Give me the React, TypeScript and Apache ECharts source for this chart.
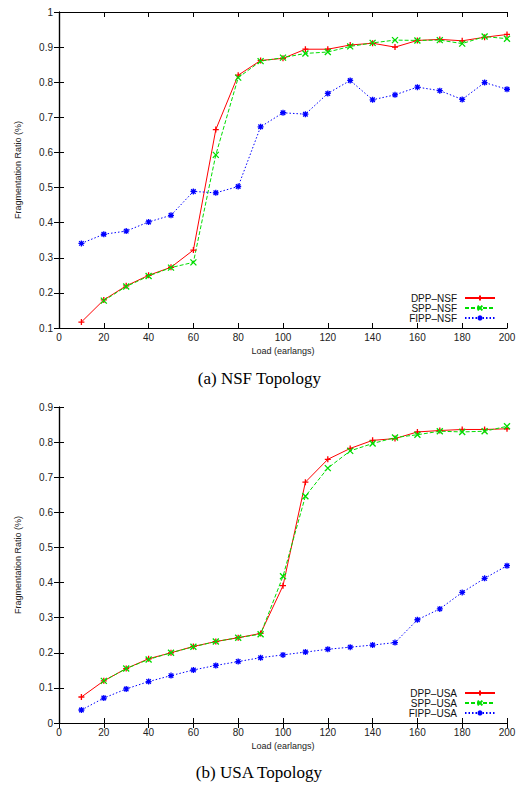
import React, { useEffect, useRef } from "react";
import * as echarts from "echarts";

const loads = [10, 20, 30, 40, 50, 60, 70, 80, 90, 100, 110, 120, 130, 140, 150, 160, 170, 180, 190, 200];

const dppNsf = [0.117, 0.18, 0.22, 0.25, 0.273, 0.322, 0.665, 0.82, 0.862, 0.868, 0.894, 0.894, 0.906, 0.911, 0.9, 0.919, 0.922, 0.918, 0.928, 0.936];
const sppNsf = [null, 0.178, 0.218, 0.248, 0.272, 0.287, 0.593, 0.813, 0.86, 0.87, 0.882, 0.886, 0.902, 0.912, 0.92, 0.919, 0.92, 0.91, 0.93, 0.924];
const fippNsf = [0.341, 0.367, 0.376, 0.402, 0.421, 0.489, 0.485, 0.503, 0.673, 0.713, 0.709, 0.768, 0.805, 0.75, 0.764, 0.786, 0.776, 0.751, 0.799, 0.78];

const dppUsa = [0.074, 0.12, 0.155, 0.183, 0.2, 0.218, 0.232, 0.243, 0.255, 0.391, 0.686, 0.751, 0.782, 0.805, 0.81, 0.829, 0.833, 0.836, 0.836, 0.838];
const sppUsa = [null, 0.12, 0.155, 0.181, 0.2, 0.217, 0.232, 0.243, 0.253, 0.418, 0.646, 0.726, 0.775, 0.796, 0.813, 0.821, 0.831, 0.829, 0.831, 0.845];
const fippUsa = [0.037, 0.071, 0.097, 0.118, 0.135, 0.151, 0.164, 0.175, 0.186, 0.194, 0.202, 0.21, 0.216, 0.222, 0.229, 0.294, 0.325, 0.372, 0.412, 0.448];

const namesNsf = ["DPP\u2013NSF", "SPP\u2013NSF", "FIPP\u2013NSF"];
const namesUsa = ["DPP\u2013USA", "SPP\u2013USA", "FIPP\u2013USA"];
const captions = ["(a) NSF Topology", "(b) USA Topology"];
const xTitle = "Load (earlangs)";
const yTitle = "Fragmentation Ratio (%)";

const PLUS = "path://M0,4L8,4M4,0L4,8";
const CROSS = "path://M0,0L8,8M8,0L0,8";
const STAR = "path://M0,4L8,4M4,0L4,8M1,1L7,7M7,1L1,7";

const FONT = "Liberation Sans, Arial, sans-serif";

export default function App() {
  const ref = useRef<HTMLDivElement>(null);
  useEffect(() => {
    if (!ref.current) return;
    const chart = echarts.init(ref.current, undefined, { renderer: "svg" });
    const pair = (ys: (number | null)[]) => loads.map((x, i) => [x, ys[i]]);
    const fmt = (v: number) => String(+v.toFixed(1));

    const grids = [
      { left: 59, top: 12, width: 448, height: 316 },
      { left: 59, top: 407, width: 448, height: 316 },
    ];
    const yRanges = [
      { min: 0.1, max: 1 },
      { min: 0, max: 0.9 },
    ];
    const xAxes: any[] = [];
    const yAxes: any[] = [];
    [0, 1].forEach((g) => {
      xAxes.push({
        type: "value", gridIndex: g, min: 0, max: 200, interval: 20, position: "bottom",
        name: xTitle, nameLocation: "middle", nameGap: 18,
        nameTextStyle: { fontFamily: FONT, fontSize: 9, color: "#222" },
        axisLine: { lineStyle: { color: "#000", width: 1.2 } },
        axisTick: { inside: true, length: 5, lineStyle: { color: "#000" } },
        axisLabel: { fontFamily: FONT, fontSize: 10, color: "#222", margin: 4 },
        splitLine: { show: false },
      });
      xAxes.push({
        type: "value", gridIndex: g, min: 0, max: 200, interval: 20, position: "top",
        axisLine: { lineStyle: { color: "#000", width: 1.2 } },
        axisTick: { inside: true, length: 5, lineStyle: { color: "#000" } },
        axisLabel: { show: false },
        splitLine: { show: false },
      });
      yAxes.push({
        type: "value", gridIndex: g, min: yRanges[g].min, max: yRanges[g].max, interval: 0.1, position: "left",
        name: yTitle, nameLocation: "middle", nameGap: 37, nameRotate: 90,
        nameTextStyle: { fontFamily: FONT, fontSize: 9, color: "#222" },
        axisLine: { lineStyle: { color: "#000", width: 1.2 } },
        axisTick: { inside: true, length: 5, lineStyle: { color: "#000" } },
        axisLabel: { fontFamily: FONT, fontSize: 10, color: "#222", margin: 6, formatter: fmt },
        splitLine: { show: false },
      });
      yAxes.push({
        type: "value", gridIndex: g, min: yRanges[g].min, max: yRanges[g].max, interval: 0.1, position: "right",
        axisLine: { lineStyle: { color: "#000", width: 1.2 } },
        axisTick: { inside: true, length: 5, lineStyle: { color: "#000" } },
        axisLabel: { show: false },
        splitLine: { show: false },
      });
    });

    const mk = (name: string, data: (number | null)[], g: number, color: string, type: any, symbol: string, size: number, lw = 1) => ({
      name, type: "line", xAxisIndex: g * 2, yAxisIndex: g * 2, data: pair(data),
      symbol, symbolSize: size, showSymbol: true, connectNulls: false,
      lineStyle: { color, width: lw, type },
      itemStyle: { color, borderColor: color, borderWidth: 1.3 },
    });

    const series = [
      mk(namesNsf[0], dppNsf, 0, "#ff0000", "solid", PLUS, 6),
      mk(namesNsf[1], sppNsf, 0, "#00dd00", [4, 2], CROSS, 6),
      mk(namesNsf[2], fippNsf, 0, "#0000ff", [1.5, 2], STAR, 6),
      mk(namesUsa[0], dppUsa, 1, "#ff0000", "solid", PLUS, 6),
      mk(namesUsa[1], sppUsa, 1, "#00dd00", [4, 2], CROSS, 6),
      mk(namesUsa[2], fippUsa, 1, "#0000ff", [1.5, 2], STAR, 6),
    ];

    const legendBase = {
      orient: "vertical", align: "right", right: 23, itemWidth: 30, itemHeight: 6, itemGap: 0,
      textStyle: { fontFamily: FONT, fontSize: 10, color: "#111", padding: [0, 3, 0, 0] },
      padding: 0, selectedMode: false,
    };
    const nsfTops = [293, 303, 313];
    const usaTops = [688, 698, 708];
    const legends = [
      ...namesNsf.map((n, i) => ({ ...legendBase, data: [n], top: nsfTops[i] })),
      ...namesUsa.map((n, i) => ({ ...legendBase, data: [n], top: usaTops[i] })),
    ];

    chart.setOption({
      animation: false,
      backgroundColor: "#fff",
      grid: grids,
      xAxis: xAxes,
      yAxis: yAxes,
      legend: legends,
      series,
      graphic: [
        { type: "text", left: "center", top: 370, style: { text: captions[0], font: "17px 'Liberation Serif', 'DejaVu Serif', serif", fill: "#000" } },
        { type: "text", left: "center", top: 764, style: { text: captions[1], font: "17px 'Liberation Serif', 'DejaVu Serif', serif", fill: "#000" } },
      ],
    });
    return () => chart.dispose();
  }, []);
  return <div ref={ref} style={{ position: "absolute", left: 0, top: 0, width: 519, height: 788 }} />;
}
